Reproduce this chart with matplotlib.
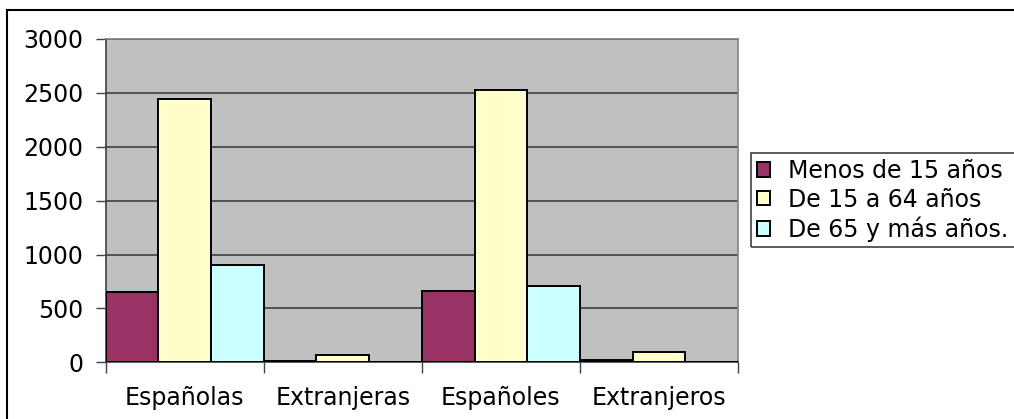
import matplotlib
matplotlib.use("Agg")
import matplotlib.pyplot as plt
from matplotlib.lines import Line2D
from matplotlib.patches import Rectangle
import numpy as np

categories = ["Españolas", "Extranjeras", "Españoles", "Extranjeros"]
series_names = ["Menos de 15 años", "De 15 a 64 años", "De 65 y más años."]
menos_15 = [650, 10, 658, 18]
de_15_64 = [2440, 65, 2525, 93]
de_65_mas = [900, 0, 705, 0]
yticks = [0, 500, 1000, 1500, 2000, 2500, 3000]

colors = ["#993366", "#FFFFCC", "#CCFFFF"]

W, H = 1014, 419
fig = plt.figure(figsize=(W / 100, H / 100), dpi=100)
plt.rcParams["font.family"] = ["DejaVu Sans"]

# plot area in pixel coords of the reference
left, right, top, bottom = 105.7, 738, 39, 362.3
ax = fig.add_axes([left / W, 1 - bottom / H, (right - left) / W, (bottom - top) / H])
ax.set_facecolor("#C0C0C0")

x = np.arange(len(categories))
bw = 1 / 3
for i, (vals, col, name) in enumerate(zip([menos_15, de_15_64, de_65_mas], colors, series_names)):
    ax.bar(x + (i - 1) * bw, vals, width=bw, color=col, edgecolor="black",
           linewidth=1.4, label=name, zorder=3)

ax.set_xlim(-0.5, len(categories) - 0.5)
ax.set_ylim(0, 3000)
ax.set_yticks(yticks)
ax.set_yticklabels([str(v) for v in yticks], fontsize=17)
ax.yaxis.grid(True, color="#404040", linewidth=1.2, zorder=1)
ax.set_axisbelow(True)

# category boundaries get the tick marks, labels sit in the middle
ax.set_xticks(np.arange(len(categories) + 1) - 0.5)
ax.set_xticklabels([])
ax.set_xticks(x, minor=True)
ax.set_xticklabels(categories, minor=True, fontsize=17)
ax.tick_params(axis="x", which="minor", length=0, pad=17)
ax.tick_params(axis="x", which="major", length=8, width=1, color="#404040")
ax.tick_params(axis="y", length=7, width=1, color="#404040", pad=9)

for side in ["top", "right"]:
    ax.spines[side].set_color("#808080")
    ax.spines[side].set_linewidth(1.2)
for side in ["left", "bottom"]:
    ax.spines[side].set_color("#404040")
    ax.spines[side].set_linewidth(1.2)

# legend box runs past the right edge of the picture
fig.add_artist(Rectangle((751 / W, 1 - 247 / H), 300 / W, 94 / H, fill=False,
                         edgecolor="#404040", linewidth=1.2,
                         transform=fig.transFigure))
leg = fig.legend(loc="upper left", bbox_to_anchor=(751 / W, 1 - 153 / H),
                 fontsize=17, frameon=False, handlelength=0.55,
                 handleheight=0.55, handletextpad=0.75, borderpad=0.25,
                 labelspacing=0.2, borderaxespad=0)

# outer chart frame (only left and top edges fall inside the picture)
fx, fy = 7 / W, 1 - 10 / H
fig.add_artist(Line2D([fx, fx], [0, fy], color="black", linewidth=1.5,
                      transform=fig.transFigure))
fig.add_artist(Line2D([fx, 1], [fy, fy], color="black", linewidth=1.5,
                      transform=fig.transFigure))

fig.savefig("out.png", dpi=100)
plt.close(fig)
